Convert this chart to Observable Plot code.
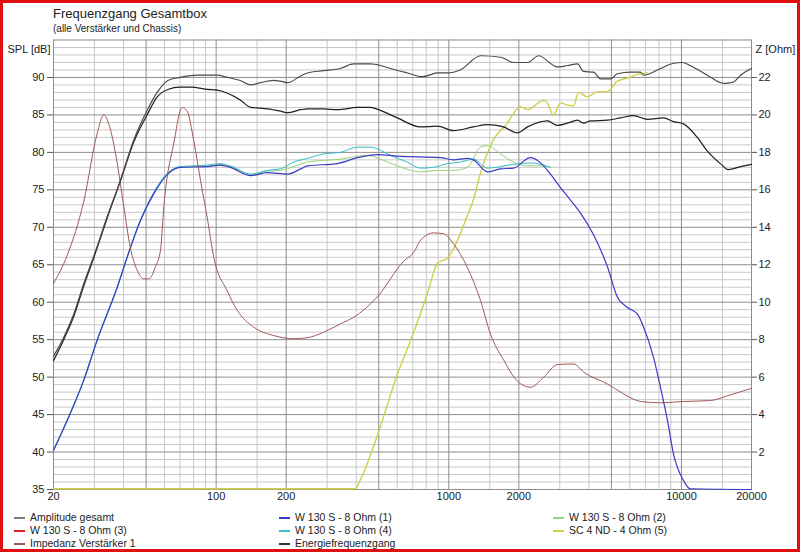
<!DOCTYPE html>
<html>
<head>
<meta charset="utf-8">
<script src="https://cdn.jsdelivr.net/npm/d3@7"></script>
<script src="https://cdn.jsdelivr.net/npm/@observablehq/plot@0.6"></script>
<style>
  html, body { margin: 0; padding: 0; background: #fff; }
  #page { position: relative; width: 800px; height: 552px; overflow: hidden; background: #fff; font-family: "Liberation Sans", Arial, sans-serif; color: #222; }
  #border { position: absolute; inset: 0; border: 3px solid #e01010; pointer-events: none; box-sizing: border-box; }
  #title { position: absolute; left: 53px; top: 6px; font-size: 13px; color: #222; }
  #subtitle { position: absolute; left: 53px; top: 23px; font-size: 10px; color: #222; }
  #chart { position: absolute; left: 0; top: 0; }
  .leg { position: absolute; font-size: 10.5px; color: #222; white-space: nowrap; line-height: 12px; }
  .leg i { display: inline-block; width: 11px; height: 0; border-top: 2px solid; vertical-align: middle; margin-right: 5px; }
</style>
</head>
<body>
<div id="page">
  <div id="chart"></div>
  <div id="title">Frequenzgang Gesamtbox</div>
  <div id="subtitle">(alle Verstärker und Chassis)</div>
  <div id="legend"></div>
  <div id="border"></div>
</div>
<script>
// ---------- data ----------
const xTicks = [20, 50, 100, 200, 500, 1000, 2000, 5000, 10000, 20000];
const xMinor = [30, 40, 60, 70, 80, 90, 150, 300, 400, 600, 700, 800, 900, 1500, 3000, 4000, 6000, 7000, 8000, 9000, 15000];
const yTicks = [35, 40, 45, 50, 55, 60, 65, 70, 75, 80, 85, 90];
const zTicks = [2, 4, 6, 8, 10, 12, 14, 16, 18, 20, 22];

const seriesNames = ["Amplitude gesamt", "W 130 S - 8 Ohm (1)", "W 130 S - 8 Ohm (2)", "W 130 S - 8 Ohm (3)", "W 130 S - 8 Ohm (4)", "SC 4 ND - 4 Ohm (5)", "Impedanz Verstärker 1", "Energiefrequenzgang"];
const seriesColors = ["#7a7a7a", "#3a3ac8", "#98d078", "#e02020", "#30c0c8", "#cfcf48", "#a05858", "#303038"];

const ampFreq = [20,22.2,24.5,27,30,34,38.8,44.3,50.5,55.8,62,70,83,92,101,112,127,141,155,177,189,203,231,247,289,342,390,460,508,561,664,771,894,987,1120,1370,1670,1900,2180,2430,2930,3240,3575,3800,4190,4500,4950,5300,6040,6670,6870,8130,9250,10100,10900,12900,15200,16750,17950,20000];
const ampDb = [52.8,55.4,58.5,62.5,66.4,71.4,76.3,81.7,85.6,88,89.6,90,90.3,90.3,90.3,90,89.6,89,89.3,89.6,89.5,89.3,90.2,90.6,90.9,91.2,91.8,91.8,91.6,91.2,90.6,90.1,90.6,90.6,91,92.9,92.7,92,92,92.9,91.4,91.6,91.8,90.8,90.7,89.8,89.8,90.5,90.7,90.7,90.3,91.2,91.9,92,91.6,90.3,89.2,89.4,90.3,91.2];

const enFreq = [20,22.2,24.5,27,30,34,38.8,44.3,50.5,55.8,62,70,78,92,101,112,127,141,155,166,189,203,231,247,289,332,405,460,508,601,755,894,1047,1277,1466,1718,1973,2180,2655,2930,3240,3575,3800,4065,4810,5470,6220,7150,8375,9250,10200,11700,12900,14700,15900,17950,20000];
const enDb = [52.2,55.1,58.2,62.2,66.2,71.2,76.2,81.4,85,87.4,88.4,88.7,88.7,88.4,88.3,87.9,87,86,85.9,85.8,85.5,85.3,85.7,85.8,85.8,85.7,86,86,85.6,84.6,83.4,83.5,82.9,83.4,83.7,83.4,82.6,83.4,84.2,83.6,83.9,84.3,83.9,84.2,84.3,84.6,84.9,84.4,84.6,84.1,83.8,82,80.2,78.5,77.7,78.1,78.4];

const w1Freq = [20,22.9,27,30.8,37.6,42,47.3,54,62,70,92,104,115,141,166,203,231,247,332,405,494,601,921,1047,1203,1277,1466,1667,1896,2245,2480,2735,3020,3300,3700,4190,4810,5300,5860,6470,6870,7590,8130,8710,9250,10200,10900,20000];
const w1Db = [40.2,44.2,49.6,54.9,62,66.5,70.9,74.5,77.1,78,78.1,78.3,78,76.9,77.3,77.1,77.8,78.2,78.5,79.3,79.7,79.5,79.3,79,79.2,79,77.4,77.8,77.9,79.3,78.6,77.1,75.3,73.8,71.8,69,64.7,60.7,59.3,58.4,56.7,52.6,48.6,44.2,39.7,36.2,35.1,35];

const w2Freq = [20,22.9,27,30.8,37.6,42,47.3,54,62,70,92,104,115,141,166,189,247,342,447,508,601,755,894,1047,1203,1368,1466,1667,1896,2179,2554,2735];
const w2Db = [40.2,44.2,49.6,54.9,62,66.5,70.9,74.6,77.2,78,78.2,78.4,78.1,77,77.5,77.6,78.7,79.1,79.6,79.1,78.2,77.4,77.6,77.6,78,80.7,80.9,79.8,78.7,78.2,78.2,78];

const w4Freq = [20,22.9,27,30.8,37.6,42,47.3,54,62,70,92,104,115,141,166,189,215,247,289,342,405,460,508,561,664,755,859,987,1122,1277,1466,1900,2245,2735];
const w4Db = [40.3,44.3,49.7,55,62.1,66.6,71,74.7,77.3,78.1,78.3,78.5,78.2,77.1,77.6,77.8,78.7,79.2,79.8,80,80.7,80.7,80.3,79.6,78.7,77.9,78,78.5,78.7,79.1,77.9,78.4,78.6,78];

const scFreq = [20,397,417,492,600,705,810,894,987,1047,1203,1277,1368,1557,1786,1896,2033,2179,2312,2479,2600,2819,3021,3237,3436,3608,3946,4357,4810,5309,5861,6473,7146];
const scDb = [35,35,36.2,42,50.2,55.8,61.1,65.1,65.8,67,71.5,73.6,77.1,81.6,83.8,85.1,86,85.6,86,86.7,86.8,84.9,86.5,86.2,86.1,87.9,87.3,88,88,89.4,89.8,90.3,90.5];

const zFreq = [20,22.9,27,30.8,32.9,34.6,37.6,40.1,42.8,45.8,48.9,51.4,54.9,57.7,59.6,65.8,71.5,75.1,80.2,85.7,91.6,97.7,111.6,123.3,145,177,216,246,290,343,391,492,641,708,755,861,951,1050,1200,1368,1510,1723,1968,2245,2561,2925,3446,3804,4796,5650,6670,8128,10230,13340,15720,20000];
const zOhm = [11,12.5,15.4,19,20,19.5,17.4,15.1,12.9,11.7,11.25,11.25,11.9,12.8,15.1,18.5,20.4,20.2,18.6,16.5,14.5,12.4,10.6,9.56,8.67,8.22,8.05,8.1,8.4,8.85,9.2,10.27,12.2,12.67,13.3,13.7,13.65,13.1,11.87,10.1,8.3,6.9,5.8,5.46,6,6.67,6.7,6.26,5.64,5.1,4.7,4.63,4.7,4.75,5.0,5.4];

// ---------- build ----------
const rows = (fs, vs) => fs.map((f, i) => ({f, v: vs[i]}));
const zToDb = z => 35 + z * 2.5;      // right axis: 0 Ohm at 35 dB, 24 Ohm at 95 dB
const dbToZ = d => (d - 35) / 2.5;
const yMinor = d3.range(36, 95, 1).filter(d => d % 5 !== 0);

const lineOpts = (color, w = 1) => ({x: "f", y: "v", stroke: color, strokeWidth: w, curve: "monotone-x"});

const chart = Plot.plot({
  width: 800,
  height: 505,
  marginLeft: 53,
  marginRight: 49,
  marginTop: 39.5,
  marginBottom: 16,
  style: {fontFamily: "Liberation Sans, Arial, sans-serif", fontSize: "11px", color: "#222", background: "transparent"},
  x: {type: "log", domain: [20, 20000]},
  y: {domain: [35, 95]},
  marks: [
    Plot.ruleY(yMinor, {stroke: "#c8c8c8"}),
    Plot.ruleX(xMinor, {stroke: "#c8c8c8"}),
    Plot.ruleY(yTicks, {stroke: "#8e8e8e"}),
    Plot.ruleX(xTicks, {stroke: "#8e8e8e"}),
    Plot.frame({stroke: "#8e8e8e"}),
    Plot.axisX({ticks: xTicks, tickFormat: d => String(d), tickSize: 0, tickPadding: 3, label: null}),
    Plot.axisY({ticks: yTicks, tickSize: 6, tickPadding: 3, label: null, stroke: "#555"}),
    Plot.axisY({anchor: "right", ticks: zTicks.map(zToDb), tickFormat: d => String(Math.round(dbToZ(d))), tickSize: 5, tickPadding: 2, label: null, stroke: "#555"}),
    Plot.text(["SPL [dB]"], {frameAnchor: "top-left", dx: -3, dy: 5, textAnchor: "end", fill: "#222", fontSize: 11}),
    Plot.text(["Z [Ohm]"], {frameAnchor: "top-right", dx: 4, dy: 5, textAnchor: "start", fill: "#222", fontSize: 11}),
    Plot.line(rows(scFreq, scDb), {...lineOpts(seriesColors[5], 1.4), dy: -0.8}),
    Plot.line(rows(w2Freq, w2Db), lineOpts(seriesColors[2])),
    Plot.line(rows(w4Freq, w4Db), lineOpts(seriesColors[4])),
    Plot.line(rows(w1Freq, w1Db), lineOpts(seriesColors[1], 1.2)),
    Plot.line(rows(zFreq, zOhm.map(zToDb)), lineOpts(seriesColors[6])),
    Plot.line(rows(enFreq, enDb), lineOpts("#1e1e22", 1.2)),
    Plot.line(rows(ampFreq, ampDb), lineOpts("#4a4a4a", 1.2))
  ]
});
document.getElementById("chart").appendChild(chart);

// ---------- legend ----------
const legendPos = [
  [14, 511], [279, 511], [553, 511],
  [14, 524], [279, 524], [553, 524],
  [14, 537], [279, 537]
];
const legend = document.getElementById("legend");
seriesNames.forEach((name, k) => {
  const el = document.createElement("div");
  el.className = "leg";
  el.style.left = legendPos[k][0] + "px";
  el.style.top = legendPos[k][1] + "px";
  el.innerHTML = `<i style="border-color:${seriesColors[k]}"></i>${name}`;
  legend.appendChild(el);
});
</script>
</body>
</html>
